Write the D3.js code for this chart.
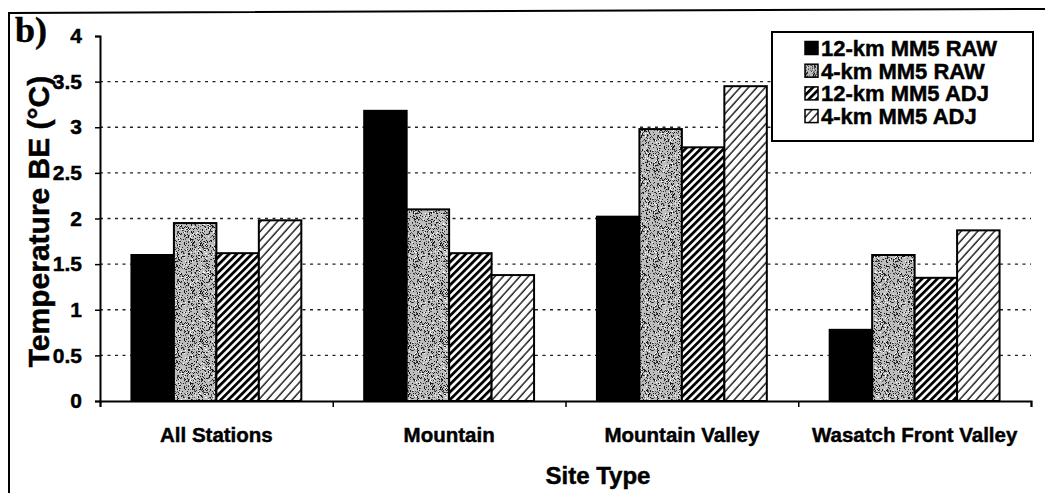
<!DOCTYPE html>
<html>
<head>
<meta charset="utf-8">
<script src="https://cdn.jsdelivr.net/npm/d3@7/dist/d3.min.js"></script>
<style>
  html, body { margin: 0; padding: 0; background: #fff; }
  svg { display: block; }
  text { font-family: "Liberation Sans", Arial, sans-serif; font-weight: bold; fill: #000; stroke: #000; stroke-width: 0.45px; }
</style>
</head>
<body>
<svg id="chart" width="1045" height="493"></svg>
<script>
// ---- data ----
const categories = ["All Stations", "Mountain", "Mountain Valley", "Wasatch Front Valley"];
const seriesNames = ["12-km MM5 RAW", "4-km MM5 RAW", "12-km MM5 ADJ", "4-km MM5 ADJ"];
const raw12 = [1.60, 3.18, 2.02, 0.78];
const raw4  = [1.95, 2.10, 2.98, 1.60];
const adj12 = [1.62, 1.62, 2.78, 1.35];
const adj4  = [1.98, 1.38, 3.45, 1.87];
const yTicks = [0, 0.5, 1, 1.5, 2, 2.5, 3, 3.5, 4];
const seriesValues = [raw12, raw4, adj12, adj4];

const svg = d3.select("#chart");
const m = { left: 100, right: 1031, top: 36, bottom: 401 };

// ---- patterns ----
const defs = svg.append("defs");
const stip = defs.append("pattern").attr("id", "stipple").attr("patternUnits", "userSpaceOnUse")
  .attr("width", 48).attr("height", 48);
stip.append("rect").attr("width", 48).attr("height", 48).attr("fill", "#bdbdbd");
let seed = 7;
function lcg() { seed = (seed * 1103515245 + 12345) % 2147483648; return seed / 2147483648; }
const speck = [];
for (let i = 0; i < 800; i++) speck.push([Math.floor(lcg() * 48), Math.floor(lcg() * 48), lcg()]);
stip.selectAll("rect.s").data(speck).enter().append("rect").attr("class", "s")
  .attr("x", d => d[0]).attr("y", d => d[1]).attr("width", 1).attr("height", 1)
  .attr("fill", d => d[2] < 0.55 ? "#1a1a1a" : (d[2] < 0.8 ? "#5a5a5a" : "#fff"));

const hatchD = defs.append("pattern").attr("id", "hatchDark").attr("patternUnits", "userSpaceOnUse")
  .attr("width", 5.4).attr("height", 10).attr("patternTransform", "rotate(45)");
hatchD.append("rect").attr("width", 5.4).attr("height", 10).attr("fill", "#fff");
hatchD.append("line").attr("x1", 1.4).attr("x2", 1.4).attr("y1", 0).attr("y2", 10)
  .attr("stroke", "#000").attr("stroke-width", 2.8);

const hatchL = defs.append("pattern").attr("id", "hatchLight").attr("patternUnits", "userSpaceOnUse")
  .attr("width", 6.2).attr("height", 10).attr("patternTransform", "rotate(42)");
hatchL.append("rect").attr("width", 6.2).attr("height", 10).attr("fill", "#fff");
hatchL.append("line").attr("x1", 1).attr("x2", 1).attr("y1", 0).attr("y2", 10)
  .attr("stroke", "#000").attr("stroke-width", 1.3);

const fills = ["#000", "url(#stipple)", "url(#hatchDark)", "url(#hatchLight)"];

// ---- frame ----
svg.append("path").attr("d", "M9,493 L9,13 L1045,9").attr("fill", "none")
  .attr("stroke", "#000").attr("stroke-width", 2);

// ---- scales ----
const x = d3.scaleBand().domain(categories).range([m.left, m.right]).paddingInner(0).paddingOuter(0);
const xs = d3.scaleBand().domain(seriesNames).range([0, x.bandwidth()]).paddingInner(0).paddingOuter(0.74);
const xb = d3.scaleLinear().domain([0, categories.length]).range([m.left, m.right]);
const y = d3.scaleLinear().domain([0, 4]).range([m.bottom, m.top]);

// ---- gridlines ----
svg.append("g").selectAll("line").data(yTicks.filter(t => t > 0 && t < 4)).enter().append("line")
  .attr("x1", m.left).attr("x2", m.right).attr("y1", d => y(d)).attr("y2", d => y(d))
  .attr("stroke", "#222").attr("stroke-width", 1.3).attr("stroke-dasharray", "3,4.5");

// ---- bars ----
const rows = [];
categories.forEach((c, i) => seriesNames.forEach((s, j) => rows.push({ c, s, j, v: seriesValues[j][i] })));
svg.append("g").selectAll("rect").data(rows).enter().append("rect")
  .attr("x", d => x(d.c) + xs(d.s)).attr("width", xs.bandwidth())
  .attr("y", d => y(d.v)).attr("height", d => y(0) - y(d.v))
  .attr("fill", d => fills[d.j]).attr("stroke", "#000").attr("stroke-width", 2);

// ---- axes ----
const ya = svg.append("g").attr("transform", `translate(${m.left},0)`)
  .call(d3.axisLeft(y).tickValues(yTicks).tickSize(5).tickPadding(13).tickFormat(d3.format("~g")));
ya.select(".domain").attr("stroke", "#000").attr("stroke-width", 2);
ya.selectAll(".tick line").attr("stroke", "#000").attr("stroke-width", 1.5);
ya.selectAll("text").style("font-size", "21px").style("font-family", "Liberation Sans, Arial, sans-serif").style("font-weight", "bold");

const xa = svg.append("g").attr("transform", `translate(0,${m.bottom})`)
  .call(d3.axisBottom(xb).tickValues(d3.range(categories.length + 1)).tickSize(6).tickFormat(""));
xa.select(".domain").attr("stroke", "#000").attr("stroke-width", 2);
xa.selectAll(".tick line").attr("stroke", "#000").attr("stroke-width", 1.5);

const xl = svg.append("g").attr("transform", `translate(0,${m.bottom})`)
  .call(d3.axisBottom(x).tickSize(0).tickPadding(26));
xl.select(".domain").remove();
xl.selectAll("text").style("font-size", "20.5px").style("font-family", "Liberation Sans, Arial, sans-serif").style("font-weight", "bold");

// ---- titles ----
svg.append("text").attr("transform", `translate(49,${(m.top + m.bottom) / 2 + 3}) rotate(-90)`)
  .attr("text-anchor", "middle").style("font-size", "30px").text("Temperature BE (°C)");
svg.append("text").attr("x", 598).attr("y", 484).attr("text-anchor", "middle")
  .style("font-size", "24px").text("Site Type");
svg.append("text").attr("x", 15).attr("y", 42)
  .style("font-family", "'Liberation Serif', 'Times New Roman', serif").style("font-size", "36px").text("b)");

// ---- legend ----
const lg = svg.append("g");
lg.append("rect").attr("x", 772).attr("y", 32).attr("width", 261).attr("height", 109)
  .attr("fill", "#fff").attr("stroke", "#000").attr("stroke-width", 2);
const li = lg.selectAll("g.item").data(seriesNames).enter().append("g").attr("class", "item")
  .attr("transform", (d, i) => `translate(805,${48 + i * 22.7})`);
li.append("rect").attr("x", 0).attr("y", -6.5).attr("width", 13).attr("height", 13)
  .attr("fill", (d, i) => fills[i]).attr("stroke", "#000").attr("stroke-width", 1.5);
li.append("text").attr("x", 16).attr("dy", "0.36em").style("font-size", "22px").text(d => d);
</script>
</body>
</html>
